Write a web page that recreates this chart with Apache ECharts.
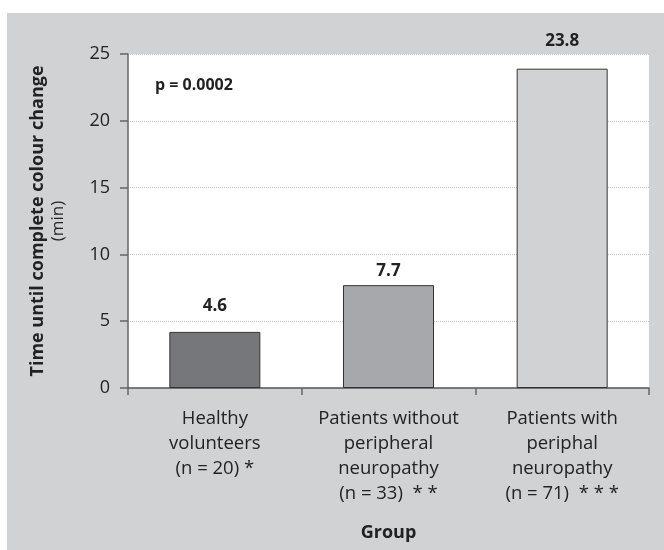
<!DOCTYPE html>
<html>
<head>
<meta charset="utf-8">
<script src="https://cdn.jsdelivr.net/npm/echarts@6/dist/echarts.min.js"></script>
<style>html,body{margin:0;padding:0;background:#fff}#c{width:664px;height:550px}</style>
</head>
<body>
<div id="c"></div>
<script>
const categories = [
  "Healthy\nvolunteers\n(n = 20) *",
  "Patients without\nperipheral\nneuropathy\n(n = 33)  * *",
  "Patients with\nperiphal\nneuropathy\n(n = 71)  * * *"
];
const barValues = [4.2, 7.7, 23.9];
const labelTexts = ["4.6", "7.7", "23.8"];
const labelGaps = [17, 5, 19];
const barColors = ["#76777b", "#a7a8ab", "#d1d2d4"];
const yTicks = [0, 5, 10, 15, 20, 25];
const pText = "p = 0.0002";

const FONT = '"Open Sans", "DejaVu Sans", sans-serif';
const chart = echarts.init(document.getElementById('c'), null, {renderer: 'canvas'});
chart.setOption({
  backgroundColor: '#d1d2d4',
  animation: false,
  textStyle: {fontFamily: FONT},
  graphic: [
    {type: 'rect', left: 0, top: 0, shape: {width: 664, height: 13}, style: {fill: '#fff'}},
    {type: 'rect', left: 0, top: 0, shape: {width: 7, height: 550}, style: {fill: '#fff'}},
    {type: 'text', left: 155, top: 77, z: 10, style: {text: pText, font: 'bold 16px ' + FONT, fill: '#222'}}
  ],
  grid: {left: 128, right: 15, top: 54, bottom: 162, show: true, backgroundColor: '#fff', borderWidth: 0},
  xAxis: {
    type: 'category',
    data: categories,
    name: 'Group',
    nameLocation: 'middle',
    nameGap: 136,
    nameTextStyle: {fontSize: 18, fontWeight: 'bold', color: '#222', fontFamily: FONT},
    axisLine: {lineStyle: {color: '#555', width: 1.5}},
    axisTick: {show: true, length: 7, lineStyle: {color: '#666', width: 1.5}},
    axisLabel: {interval: 0, fontSize: 18.5, lineHeight: 25, color: '#222', margin: 18, fontFamily: FONT}
  },
  yAxis: {
    type: 'value',
    min: yTicks[0],
    max: yTicks[yTicks.length - 1],
    interval: 5,
    name: '{b|Time until complete colour change}\n{n|(min)}',
    nameLocation: 'middle',
    nameGap: 60,
    nameRotate: 90,
    nameTextStyle: {
      color: '#222',
      rich: {
        b: {fontSize: 18, fontWeight: 'bold', fontFamily: FONT, color: '#222', lineHeight: 20},
        n: {fontSize: 17, fontFamily: FONT, color: '#222', lineHeight: 20}
      }
    },
    axisLine: {show: true, lineStyle: {color: '#666', width: 1.5}},
    axisTick: {show: true, length: 8, lineStyle: {color: '#666', width: 1.5}},
    axisLabel: {fontSize: 18, color: '#222', margin: 18, fontFamily: FONT},
    splitLine: {show: true, lineStyle: {color: '#c4c4c4', type: 'dotted', width: 1}}
  },
  series: [{
    type: 'bar',
    barWidth: 91,
    data: barValues.map((v, i) => ({
      value: v,
      itemStyle: {color: barColors[i], borderColor: '#333', borderWidth: 1},
      label: {
        show: true, position: 'top', distance: labelGaps[i],
        formatter: () => labelTexts[i],
        fontSize: 17, fontWeight: 'bold', color: '#222', fontFamily: FONT
      }
    }))
  }]
});
</script>
</body>
</html>
